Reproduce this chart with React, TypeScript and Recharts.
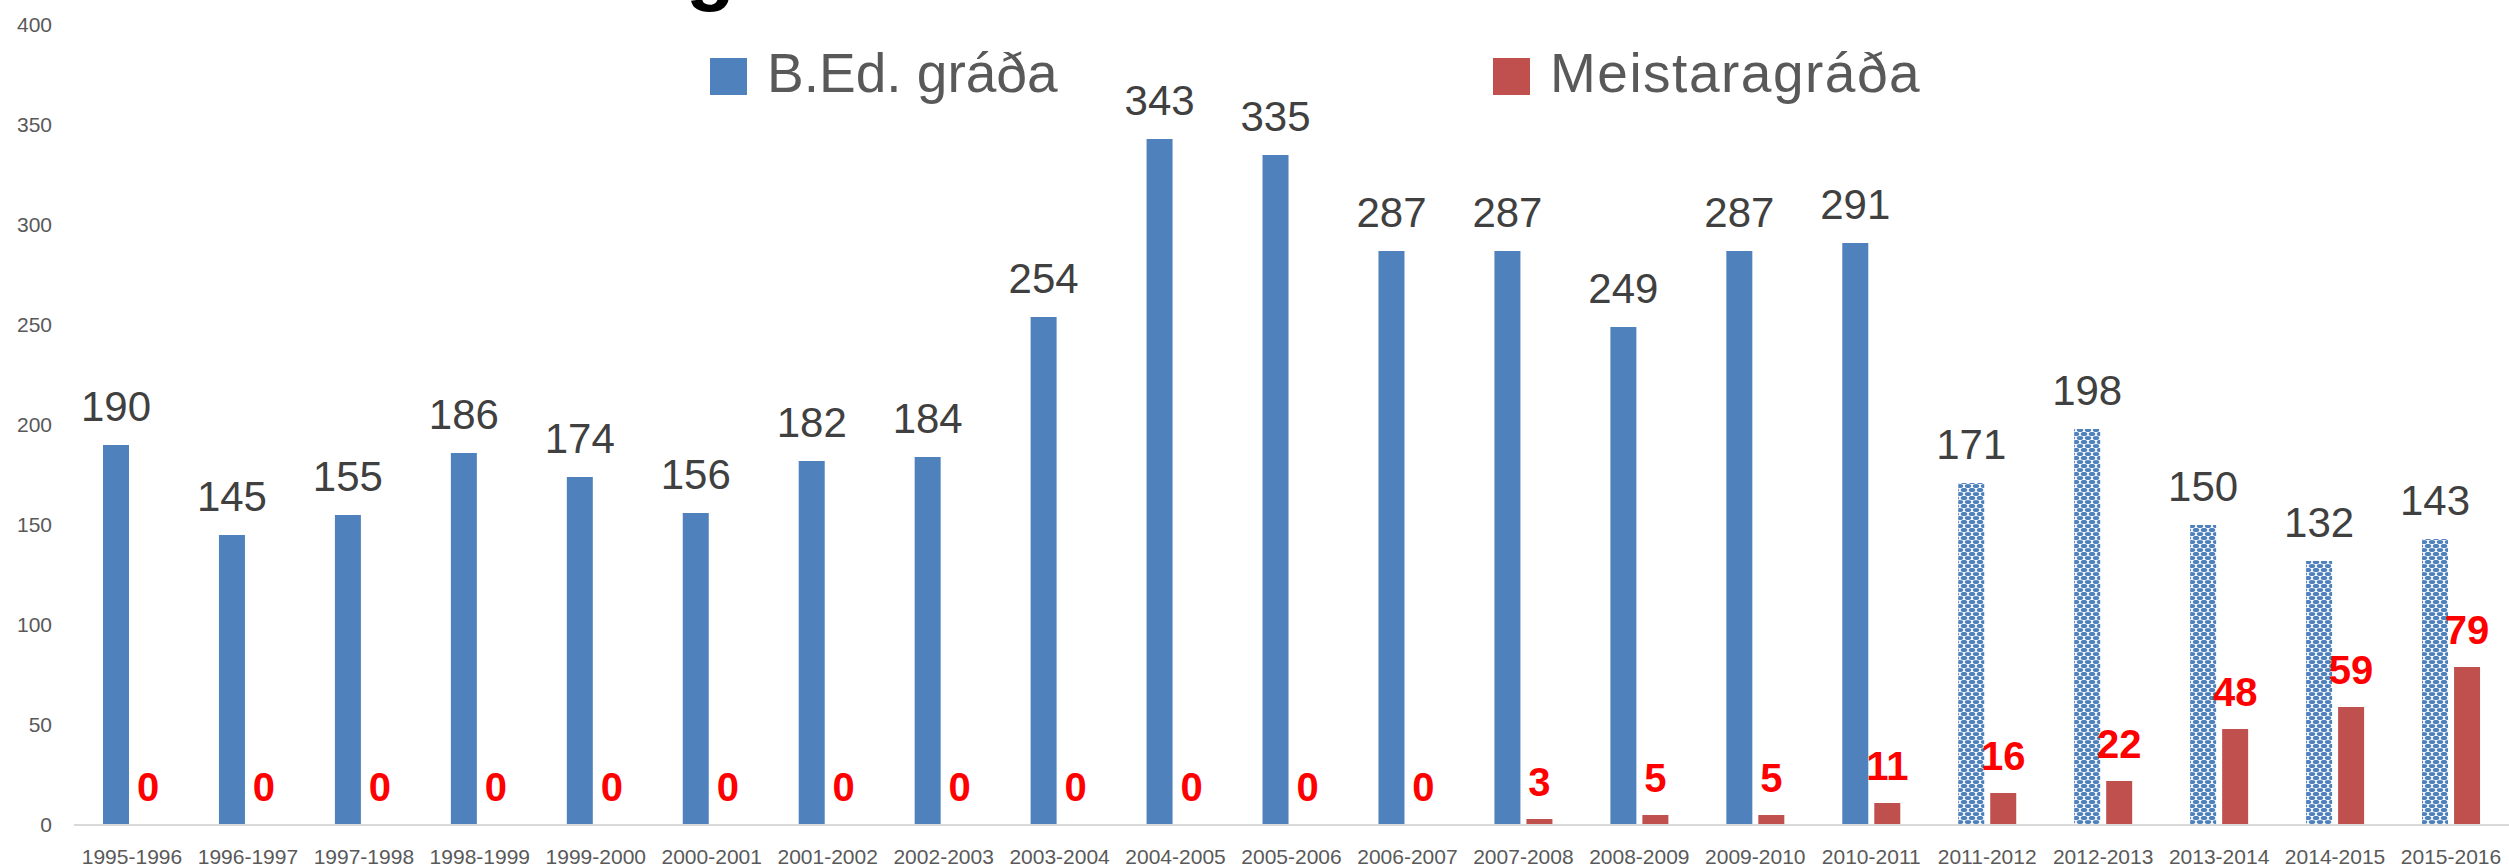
import { BarChart, Bar, XAxis, YAxis, Cell, LabelList, Legend } from "recharts";

const years = [
  "1995-1996", "1996-1997", "1997-1998", "1998-1999", "1999-2000", "2000-2001", "2001-2002",
  "2002-2003", "2003-2004", "2004-2005", "2005-2006", "2006-2007", "2007-2008", "2008-2009",
  "2009-2010", "2010-2011", "2011-2012", "2012-2013", "2013-2014", "2014-2015", "2015-2016",
];
const bedValues = [190, 145, 155, 186, 174, 156, 182, 184, 254, 343, 335, 287, 287, 249, 287, 291, 171, 198, 150, 132, 143];
const masterValues = [0, 0, 0, 0, 0, 0, 0, 0, 0, 0, 0, 0, 3, 5, 5, 11, 16, 22, 48, 59, 79];
// years drawn with the hatched fill
const patternedYears = ["2011-2012", "2012-2013", "2013-2014", "2014-2015", "2015-2016"];
const yTicks = [0, 50, 100, 150, 200, 250, 300, 350, 400];

const FONT = "'Liberation Sans', Arial, sans-serif";
const BLUE = "#4F81BD";
const RED = "#C0504D";

const data = years.map((year, i) => ({ year, bed: bedValues[i], master: masterValues[i] }));

function LegendBox() {
  const item = (left: number, color: string, label: string, spacing: number) => (
    <div key={label} style={{ position: "absolute", left, top: 0 }}>
      <div style={{ position: "absolute", left: 0, top: 58, width: 37, height: 37, background: color }} />
      <span
        style={{
          position: "absolute",
          left: 57,
          top: 46,
          fontSize: 55,
          lineHeight: "55px",
          letterSpacing: spacing,
          color: "#595959",
          whiteSpace: "nowrap",
          fontFamily: FONT,
        }}
      >
        {label}
      </span>
    </div>
  );
  return (
    <div style={{ position: "relative", width: 2509, height: 110 }}>
      {item(710, BLUE, "B.Ed. gráða", 0)}
      {item(1493, RED, "Meistaragráða", 1.5)}
    </div>
  );
}

export default function App() {
  return (
    <div style={{ position: "absolute", left: 0, top: 0, width: 2509, height: 867, overflow: "hidden", background: "#fff" }}>
      <div
        style={{
          position: "absolute",
          left: 686,
          top: -72,
          fontSize: 80,
          lineHeight: "80px",
          fontWeight: "bold",
          fontFamily: FONT,
          color: "#000",
        }}
      >
        g
      </div>
      <BarChart
        width={2509}
        height={867}
        data={data}
        margin={{ top: 25, right: 0, bottom: 0, left: 0 }}
        barSize={26}
        barGap={6}
      >
        <defs>
          <pattern id="dots" width="8" height="8" patternUnits="userSpaceOnUse">
            <rect width="8" height="8" fill="#fff" />
            <ellipse cx="4" cy="2" rx="3.3" ry="2.1" fill={BLUE} />
            <ellipse cx="0" cy="6" rx="3.3" ry="2.1" fill={BLUE} />
            <ellipse cx="8" cy="6" rx="3.3" ry="2.1" fill={BLUE} />
          </pattern>
        </defs>
        <Legend
          verticalAlign="middle"
          align="center"
          layout="horizontal"
          wrapperStyle={{ top: 0, left: 0 }}
          content={() => <LegendBox />}
        />
        <XAxis
          dataKey="year"
          interval={0}
          height={42}
          tickLine={false}
          tickSize={0}
          tickMargin={24}
          axisLine={{ stroke: "#D9D9D9", strokeWidth: 2 }}
          tick={{ fill: "#595959", fontSize: 21, fontFamily: FONT }}
        />
        <YAxis
          domain={[0, 400]}
          ticks={yTicks}
          interval={0}
          width={74}
          axisLine={false}
          tickLine={false}
          tickSize={0}
          tickMargin={22}
          tick={{ fill: "#595959", fontSize: 21, fontFamily: FONT }}
        />
        <Bar dataKey="bed" name="B.Ed. gráða" fill={BLUE} isAnimationActive={false}>
          {data.map((d) => (
            <Cell key={d.year} fill={patternedYears.includes(d.year) ? "url(#dots)" : BLUE} />
          ))}
          <LabelList dataKey="bed" position="top" offset={24} fill="#404040" fontSize={42} fontFamily={FONT} />
        </Bar>
        <Bar dataKey="master" name="Meistaragráða" fill={RED} minPointSize={1} isAnimationActive={false}>
          {data.map((d) => (
            <Cell key={d.year} fill={RED} fillOpacity={d.master === 0 ? 0 : 1} />
          ))}
          <LabelList
            dataKey="master"
            position="top"
            offset={23}
            fill="#FF0000"
            fontSize={40}
            fontWeight="bold"
            fontFamily={FONT}
          />
        </Bar>
      </BarChart>
    </div>
  );
}
